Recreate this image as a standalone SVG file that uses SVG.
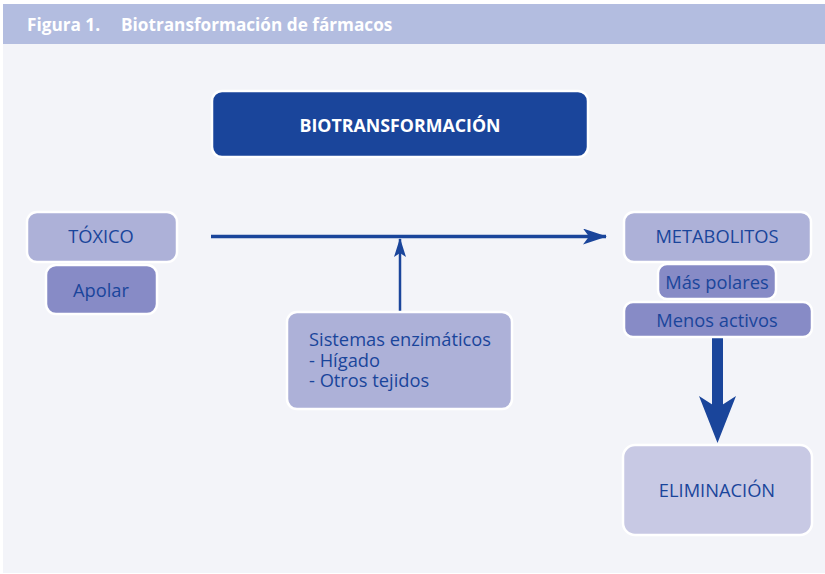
<svg xmlns="http://www.w3.org/2000/svg" width="825" height="574" viewBox="0 0 825 574">
<defs>
<style>
.box{stroke:#ffffff;stroke-width:2.5}
.l1{fill:#adb1d8}
.l2{fill:#878bc6}
.l3{fill:#c8c9e4}
.t{font-family:"Open Sans","Noto Sans",sans-serif;font-size:18.3px;fill:#1a459b}
.h{font-family:"Open Sans","Noto Sans",sans-serif;font-size:17.2px;font-weight:bold;fill:#ffffff}
.c{text-anchor:middle}
.conn{stroke:#1a459b;fill:none}
</style>
<marker id="ah" viewBox="0 0 24 16" refX="23" refY="8" markerUnits="userSpaceOnUse" markerWidth="24" markerHeight="16" orient="auto">
<path d="M0,0 L24,8 L0,16 L6,8 Z" fill="#1a459b"/>
</marker>
</defs>
<rect x="0" y="0" width="825" height="574" fill="#ffffff"/>
<rect x="3" y="4" width="822" height="40" fill="#b3bde0"/>
<rect x="3" y="44" width="822" height="529" fill="#f3f4f9"/>
<text x="27" y="31" class="h">Figura 1.</text>
<text x="121" y="31" class="h">Biotransformación de fármacos</text>

<g id="connectors">
<line class="conn" x1="211" y1="236.5" x2="606" y2="236.5" stroke-width="3.5" marker-end="url(#ah)"/>
<path class="conn" d="M400,311 L400,239" stroke-width="2.5"/>
<path d="M400,238 L406,257 L400,253 L394,257 Z" fill="#1a459b"/>
<rect x="712" y="337" width="11" height="72" fill="#1a459b"/>
<path d="M717.5,443 L736,396 L722,405 L713,405 L699,396 Z" fill="#1a459b"/>
</g>

<g id="biotransformacion">
<rect class="box" x="212" y="91" width="376" height="66" rx="10" fill="#1a459b"/>
<text x="400" y="132" class="c" font-family="Open Sans,Noto Sans,sans-serif" font-size="17.8" font-weight="bold" fill="#ffffff">BIOTRANSFORMACIÓN</text>
</g>
<g id="toxico">
<rect class="box l1" x="27" y="212" width="150" height="50" rx="10"/>
<text x="101" y="243" class="t c">TÓXICO</text>
</g>
<g id="apolar">
<rect class="box l2" x="46" y="265" width="111" height="49" rx="10"/>
<text x="101" y="297" class="t c">Apolar</text>
</g>
<g id="metabolitos">
<rect class="box l1" x="624" y="212" width="187" height="50" rx="10"/>
<text x="717" y="243" class="t c">METABOLITOS</text>
</g>
<g id="maspolares">
<rect class="box l2" x="658" y="264" width="118" height="35" rx="9"/>
<text x="717" y="289" class="t c">Más polares</text>
</g>
<g id="menosactivos">
<rect class="box l2" x="624" y="302" width="188" height="35" rx="9"/>
<text x="717" y="327" class="t c">Menos activos</text>
</g>
<g id="sistemas">
<rect class="box l1" x="287" y="312" width="225" height="97" rx="10"/>
<text class="t"><tspan x="309" y="346">Sistemas enzimáticos</tspan><tspan x="309" y="367">- Hígado</tspan><tspan x="309" y="387">- Otros tejidos</tspan></text>
</g>
<g id="eliminacion">
<rect class="box l3" x="623" y="445" width="189" height="90" rx="12"/>
<text x="717" y="497" class="t c">ELIMINACIÓN</text>
</g>
</svg>
